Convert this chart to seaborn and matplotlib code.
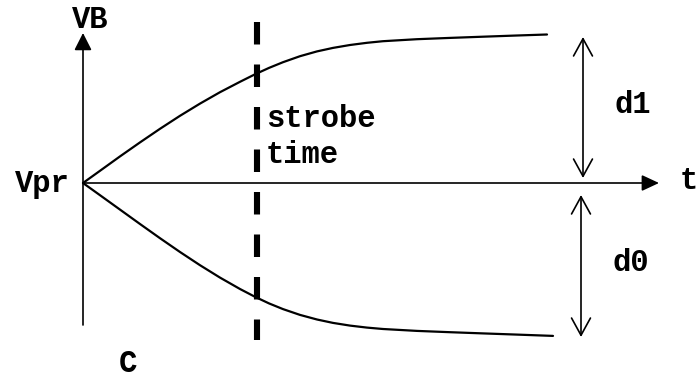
import numpy as np
import pandas as pd
import matplotlib
matplotlib.use('Agg')
import matplotlib.pyplot as plt
import seaborn as sns

# bitline voltage vs time (origin = Vpr, units ~ pixels of the sketch)
t_up = [0, 17, 37, 57, 77, 97, 117, 137, 157, 172, 186, 200, 217, 234, 250, 267, 284, 300,
        334, 367, 400, 434, 464]
v_up = [0, 12.2, 26.6, 40.6, 54.2, 67.2, 79.4, 90.8, 101.2, 108.7, 115.1, 120.8, 126.8, 131.6,
        135.1, 138.0, 140.2, 141.8, 143.8, 145.1, 146.3, 147.5, 148.5]
t_dn = [0, 17, 37, 57, 77, 97, 117, 137, 157, 172, 186, 200, 217, 234, 250, 267, 284, 300,
        334, 367, 400, 434, 470]
v_dn = [0, -12.2, -26.6, -41.0, -55.2, -69.0, -82.2, -94.6, -106.0, -113.8, -120.4, -126.1,
        -131.9, -136.5, -139.9, -142.6, -144.6, -146.0, -147.9, -149.2, -150.4, -151.6, -152.9]

strobe_t = 174
d1_t, d0_t = 500, 498

sns.set_theme(style='white')
plt.rcParams['font.family'] = ['Liberation Mono', 'DejaVu Sans']
plt.rcParams['lines.scale_dashes'] = False

fig = plt.figure(figsize=(6.98, 3.78), dpi=100)
ax = fig.add_axes([0, 0, 1, 1])
ax.set_xlim(-83, 615)
ax.set_ylim(-195, 183)
ax.axis('off')

df = pd.concat([
    pd.DataFrame({'t': t_up, 'v': v_up, 'bit': '1'}),
    pd.DataFrame({'t': t_dn, 'v': v_dn, 'bit': '0'}),
])
sns.lineplot(data=df, x='t', y='v', units='bit', estimator=None, sort=False,
             color='black', lw=1.6, ax=ax, legend=False)

# axes with arrows
ax.annotate('', xy=(0, 150), xytext=(0, -142),
            arrowprops=dict(arrowstyle='-|>,head_length=0.75,head_width=0.38',
                            color='black', lw=1.2, mutation_scale=14, shrinkA=0, shrinkB=0))
ax.annotate('', xy=(576, 0), xytext=(0, 0),
            arrowprops=dict(arrowstyle='-|>,head_length=0.75,head_width=0.35',
                            color='black', lw=1.2, mutation_scale=14, shrinkA=0, shrinkB=0))

# strobe time
ax.plot([strobe_t, strobe_t], [161, -157], color='black', lw=4.4,
        linestyle=(0, (16.2, 14.4)), solid_capstyle='butt', dash_capstyle='butt')

# d1 / d0 double arrows
arr = dict(arrowstyle='<->,head_length=0.62,head_width=0.34', color='black', lw=1.2,
           mutation_scale=20, shrinkA=0, shrinkB=0)
ax.annotate('', xy=(d1_t, 146), xytext=(d1_t, 5), arrowprops=arr)
ax.annotate('', xy=(d0_t, -12), xytext=(d0_t, -154), arrowprops=arr)

fs = 22
kw = dict(fontsize=fs, fontweight='bold', color='black')
ax.text(-11, 155, 'VB', va='baseline', ha='left', **kw)
ax.text(-13, -9, 'Vpr', va='baseline', ha='right', **kw)
ax.text(597, -6, 't', va='baseline', ha='left', **kw)
ax.text(183, 56, 'strobe', va='baseline', ha='left', **kw)
ax.text(183, 20, 'time', va='baseline', ha='left', **kw)
ax.text(531, 70, 'd1', va='baseline', ha='left', **kw)
ax.text(529, -88, 'd0', va='baseline', ha='left', **kw)
ax.text(36, -189, 'C', va='baseline', ha='left', **kw)

fig.savefig('out.png', dpi=100)
